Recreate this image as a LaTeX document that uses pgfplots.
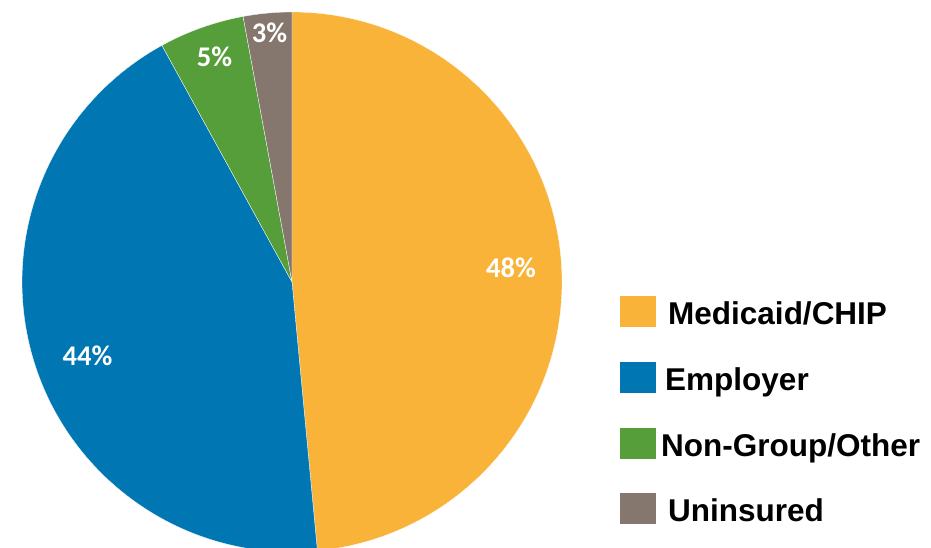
\documentclass[border=0pt]{standalone}
\usepackage{fontspec}
\setmainfont{Liberation Sans}
\newfontfamily\carlito{Carlito}
\usepackage{pgfplots}
\pgfplotsset{compat=1.18}
\definecolor{cMed}{RGB}{249,179,57}
\definecolor{cEmp}{RGB}{0,119,179}
\definecolor{cNon}{RGB}{85,158,58}
\definecolor{cUni}{RGB}{133,119,109}
\begin{document}
\begin{tikzpicture}
% shares (percent), clockwise from 12 o'clock
\def\vMed{48.5}\def\vEmp{43.5}\def\vNon{5.1}\def\vUni{2.9}
\pgfmathsetmacro\aA{90}
\pgfmathsetmacro\aB{\aA-3.6*\vMed}
\pgfmathsetmacro\aC{\aB-3.6*\vEmp}
\pgfmathsetmacro\aD{\aC-3.6*\vNon}
\pgfmathsetmacro\aE{\aD-3.6*\vUni}
\begin{axis}[name=ax,
  x=1pt,y=1pt,xmin=0,xmax=931,ymin=0,ymax=547,
  hide axis, clip=true]
\fill[cMed,draw=white,line width=0.3pt] (axis cs:292,265) -- ++(\aA:270pt) arc[start angle=\aA,end angle=\aB,radius=270pt] -- cycle;
\fill[cEmp,draw=white,line width=0.3pt] (axis cs:292,265) -- ++(\aB:270pt) arc[start angle=\aB,end angle=\aC,radius=270pt] -- cycle;
\fill[cNon,draw=white,line width=0.3pt] (axis cs:292,265) -- ++(\aC:270pt) arc[start angle=\aC,end angle=\aD,radius=270pt] -- cycle;
\fill[cUni,draw=white,line width=0.3pt] (axis cs:292,265) -- ++(\aD:270pt) arc[start angle=\aD,end angle=\aE,radius=270pt] -- cycle;
\begin{scope}[every node/.style={text=white,inner sep=0pt,anchor=base,font=\carlito\bfseries\fontsize{28.5}{32}\selectfont}]
\node at (axis cs:511,270) {48\%};
\node at (axis cs:87.5,182) {44\%};
\node at (axis cs:214.5,480) {5\%};
\node at (axis cs:269.5,504) {3\%};
\end{scope}
% legend
\fill[cMed] (axis cs:620,220) rectangle (axis cs:656,251);
\fill[cEmp] (axis cs:620,154) rectangle (axis cs:656,185);
\fill[cNon] (axis cs:620,88) rectangle (axis cs:656,119);
\fill[cUni] (axis cs:620,23) rectangle (axis cs:656,54);
\begin{scope}[every node/.style={inner sep=0pt,anchor=base west,font=\fontsize{31.5}{36}\selectfont\bfseries}]
\node at (axis cs:668,223) {Medicaid/CHIP};
\node at (axis cs:665,157) {Employer};
\node at (axis cs:661,91) {Non-Group/Other};
\node at (axis cs:668,26) {Uninsured};
\end{scope}
\end{axis}
\pgfresetboundingbox
\path (ax.south west) rectangle (ax.north east);
\end{tikzpicture}
\end{document}
